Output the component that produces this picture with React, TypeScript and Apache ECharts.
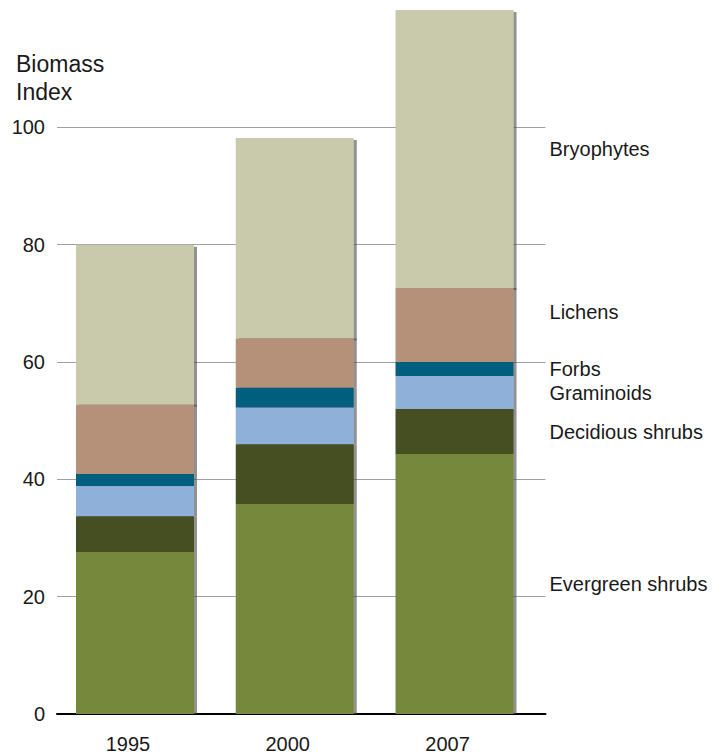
import React, { useEffect, useRef } from "react";
import * as echarts from "echarts";

// ---- Data ----
const categories = ["1995", "2000", "2007"];
const evergreenShrubs = [27.6, 35.8, 44.3];
const deciduousShrubs = [6.1, 10.2, 7.7];
const graminoids = [5.1, 6.2, 5.6];
const forbs = [2.1, 3.4, 2.4];
const lichens = [11.8, 8.4, 12.6];
const bryophytes = [27.3, 34.2, 47.5];

const seriesNames = [
  "Evergreen shrubs",
  "Decidious shrubs",
  "Graminoids",
  "Forbs",
  "Lichens",
  "Bryophytes",
];
const seriesValues = [evergreenShrubs, deciduousShrubs, graminoids, forbs, lichens, bryophytes];
const seriesColors = ["#76883A", "#454F20", "#8FB1D9", "#005E7E", "#B5917A", "#C9CAAB"];

const yMin = 0;
const yMax = 120;
const yInterval = 20;
const axisTitle = "Biomass\nIndex";

const FONT = "'Liberation Sans', Arial, Helvetica, sans-serif";
const TEXT = "#1a1a1a";

export default function App() {
  const ref = useRef<HTMLDivElement>(null);

  useEffect(() => {
    if (!ref.current) return;
    const chart = echarts.init(ref.current, undefined, { renderer: "svg" });

    const series = seriesValues.map((vals, i) => ({
      type: "bar",
      name: seriesNames[i],
      stack: "total",
      xAxisIndex: 1,
      yAxisIndex: 1,
      barWidth: 118,
      z: 10 - i,
      silent: true,
      itemStyle: {
        color: seriesColors[i],
        shadowColor: "rgba(70,70,70,0.6)",
        shadowBlur: 0,
        shadowOffsetX: 3,
        shadowOffsetY: i === seriesValues.length - 1 ? 2 : 0,
      },
      data: vals.map((v, j) =>
        j === vals.length - 1
          ? {
              value: v,
              label: {
                show: true,
                position: "right",
                distance: 36,
                formatter: seriesNames[i],
                color: TEXT,
                fontSize: 20,
                fontFamily: FONT,
                offset: seriesNames[i] === "Lichens" ? [0, -13] : [0, 0],
              },
            }
          : v
      ),
    }));

    chart.setOption({
      animation: false,
      grid: [
        { left: 57, right: 179.5, top: 10, bottom: 42 },
        { left: 55.1, right: 190.6, top: 10, bottom: 42 },
      ],
      xAxis: [
        {
          gridIndex: 0,
          type: "category",
          data: [""],
          axisLine: { show: true, lineStyle: { color: "#000", width: 2 } },
          axisTick: { show: false },
          axisLabel: { show: false },
          splitLine: { show: false },
        },
        {
          gridIndex: 1,
          type: "category",
          data: categories,
          axisLine: { show: false },
          axisTick: { show: false },
          splitLine: { show: false },
          axisLabel: {
            fontSize: 20,
            color: TEXT,
            fontFamily: FONT,
            margin: 20,
            padding: [0, 14, 0, 0],
          },
        },
      ],
      yAxis: [
        {
          gridIndex: 0,
          type: "value",
          min: yMin,
          max: yMax,
          interval: yInterval,
          axisLine: { show: false },
          axisTick: { show: false },
          axisLabel: {
            fontSize: 20,
            color: TEXT,
            fontFamily: FONT,
            margin: 12,
            showMaxLabel: false,
          },
          splitLine: {
            show: true,
            showMinLine: false,
            showMaxLine: false,
            lineStyle: { color: "#a0a0a0", width: 1 },
          },
        },
        {
          gridIndex: 1,
          type: "value",
          min: yMin,
          max: yMax,
          interval: yInterval,
          show: false,
          splitLine: { show: false },
        },
      ],
      graphic: [
        {
          type: "text",
          left: 16,
          top: 50,
          style: {
            text: axisTitle,
            fontSize: 23,
            lineHeight: 28,
            fill: TEXT,
            fontFamily: FONT,
          },
        },
      ],
      series,
    });

    return () => chart.dispose();
  }, []);

  return (
    <div
      ref={ref}
      style={{ position: "fixed", left: 0, top: 0, width: 725, height: 756, background: "#fff" }}
    />
  );
}
